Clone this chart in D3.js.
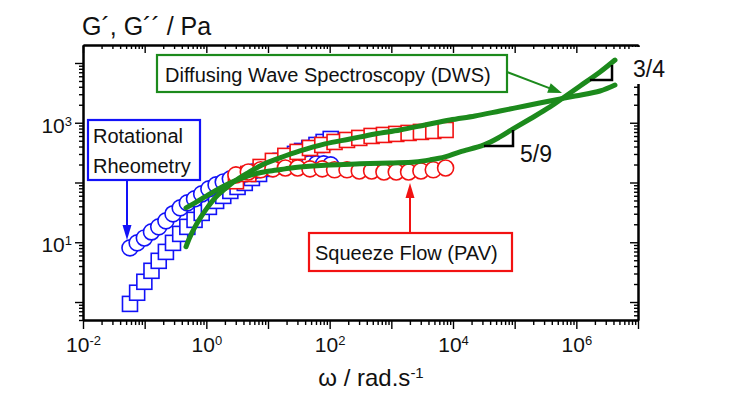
<!DOCTYPE html>
<html>
<head>
<meta charset="utf-8">
<script src="https://cdn.jsdelivr.net/npm/d3@7"></script>
<style>
  body { margin: 0; background: #fff; }
  svg { display: block; }
  text { font-family: "Liberation Sans", Arial, Helvetica, sans-serif; fill: #111; }
</style>
</head>
<body>
<svg id="chart" width="741" height="393"></svg>
<script>
// ---------------- data ----------------
// Rotational rheometry (blue): squares = G', circles = G''
const rotFreq = [0.0578,0.0755,0.0988,0.129,0.169,0.221,0.288,0.377,0.492,0.644,0.841,1.10,1.44,1.88,2.45,3.21,4.20,5.48,7.16,9.37,12.2,16.0,20.9,27.4,35.7,46.7,61.1,79.8,104];
const rotGp   = [0.93,1.43,2.18,3.33,4.89,6.90,9.77,13.8,18.1,23.7,31.0,39.1,49.2,59.7,72.3,84.3,98.4,119,139,169,197,230,268,301,337,378,425,477,535];
const rotGpp  = [8.05,9.77,11.8,14.9,18.1,22.8,29.9,37.6,45.6,53.2,64.4,78.2,91.2,102,115,129,139,150,163,175,182,189,197,205,205,205,205,205,197];

// Squeeze flow PAV (red): squares = G', circles = G''
const pavFreq = [3.02,4.79,7.59,12.0,19.1,30.2,47.9,75.9,120,191,302,479,759,1202,1905,3020,4786,7586];
const pavGp   = [105,139,182,230,279,325,378,425,477,515,557,601,625,650,675,702,729,757];
const pavGpp  = [134,150,163,169,175,175,169,169,163,163,156,156,150,150,150,156,163,175];

// DWS (green lines)
const dwsGpFreq  = [0.468,0.543,0.655,0.819,1.06,1.43,2.01,2.92,4.74,8.0,15.6,33.0,84,214,544,1380,3514,8937,22700,57800,147000,374000,951000,2.42e6,4.23e6];
const dwsGp      = [8.4,12.3,18.1,26.5,39.1,57.4,78.2,106,145,197,258,337,442,535,650,757,918,1113,1300,1575,1910,2313,2805,3400,4285];
const dwsGppFreq = [0.468,0.655,0.95,1.38,2.24,3.51,6.15,10.8,18.9,33.0,101,310,951,2420,4240,7420,13000,31800,57800,94000,177000,374000,607000,1.15e6,2.42e6,4.23e6];
const dwsGpp     = [37.6,45.6,57.4,72.3,94.6,115,139,156,169,182,197,205,213,221,239,268,325,425,579,787,1156,1837,2600,4120,7060,11200];

// slope triangles [x0, x1, yLow, yHigh]
const slope59 = [31800, 94000, 409, 757];
const slope34 = [1.66e6, 3.79e6, 5200, 9270];

// axis ticks
const xDecades = [-2,-1,0,1,2,3,4,5,6,7];
const xLabelExps = [-2,0,2,4,6];
const yDecades = [0,1,2,3,4];
const yLabelExps = [1,3];
const minorMult = [2,3,4,5,6,7,8,9];

// ---------------- chart ----------------
const svg = d3.select("#chart");
const x = d3.scaleLog().domain([1e-2, 1e7]).range([83, 638]);
const y = d3.scaleLog().domain([0.5, 2e4]).range([320, 45]);

const BLUE = "#1212f8", RED = "#f21212", GREEN = "#1c8a1c";

const xMajor = xDecades.map(e => Math.pow(10, e));
const xMinor = [];
xDecades.slice(0, -1).forEach(e => minorMult.forEach(m => xMinor.push(m * Math.pow(10, e))));
const yMajor = yDecades.map(e => Math.pow(10, e));
const yMinor = [];
[-1,0,1,2,3,4].forEach(e => minorMult.forEach(m => {
  const v = m * Math.pow(10, e);
  if (v >= 0.5 && v < 2e4) yMinor.push(v);
}));

function supLabel(sel, exps) {
  sel.selectAll(".tick text").each(function(d) {
    const e = Math.round(Math.log10(d));
    const t = d3.select(this);
    t.text(null);
    if (exps.indexOf(e) < 0) return;
    t.append("tspan").text("10");
    t.append("tspan").attr("dy", "-0.55em").attr("font-size", "13px").text(String(e));
  });
}
function styleAxis(g) {
  g.select(".domain").attr("stroke", "#000").attr("stroke-width", 2);
  g.selectAll(".tick line").attr("stroke", "#000").attr("stroke-width", 1.4);
}

// bottom axis (ticks outward)
const gbMin = svg.append("g").attr("transform", "translate(0,320)")
  .call(d3.axisBottom(x).tickValues(xMinor).tickSize(5).tickSizeOuter(0).tickFormat(""));
styleAxis(gbMin);
const gbMaj = svg.append("g").attr("transform", "translate(0,320)")
  .call(d3.axisBottom(x).tickValues(xMajor).tickSize(9).tickSizeOuter(0).tickFormat(d => "10"));
styleAxis(gbMaj);
gbMaj.selectAll(".tick text").attr("y", 32).attr("dy", 0).attr("font-size", "21px").attr("fill", "#111");
supLabel(gbMaj, xLabelExps);

// top axis (ticks inward)
const gtMin = svg.append("g").attr("transform", "translate(0,45)")
  .call(d3.axisBottom(x).tickValues(xMinor).tickSize(4).tickSizeOuter(0).tickFormat(""));
styleAxis(gtMin);
const gtMaj = svg.append("g").attr("transform", "translate(0,45)")
  .call(d3.axisBottom(x).tickValues(xMajor).tickSize(8).tickSizeOuter(0).tickFormat(""));
styleAxis(gtMaj);

// left axis (ticks outward)
const glMin = svg.append("g").attr("transform", "translate(83,0)")
  .call(d3.axisLeft(y).tickValues(yMinor).tickSize(4).tickSizeOuter(0).tickFormat(""));
styleAxis(glMin);
const glMaj = svg.append("g").attr("transform", "translate(83,0)")
  .call(d3.axisLeft(y).tickValues(yMajor).tickSize(8).tickSizeOuter(0).tickFormat(d => "10"));
styleAxis(glMaj);
glMaj.selectAll(".tick text").attr("x", -11).attr("dy", "0.45em").attr("font-size", "21px").attr("fill", "#111");
supLabel(glMaj, yLabelExps);

// right axis (ticks inward)
const grMin = svg.append("g").attr("transform", "translate(638,0)")
  .call(d3.axisLeft(y).tickValues(yMinor).tickSize(4).tickSizeOuter(0).tickFormat(""));
styleAxis(grMin);
const grMaj = svg.append("g").attr("transform", "translate(638,0)")
  .call(d3.axisLeft(y).tickValues(yMajor).tickSize(8).tickSizeOuter(0).tickFormat(""));
styleAxis(grMaj);

// ---------------- markers ----------------
const R = 8, S = 15;
function squares(freq, vals, color) {
  svg.append("g").selectAll("rect").data(freq.map((f, i) => [f, vals[i]])).join("rect")
    .attr("x", d => x(d[0]) - S / 2).attr("y", d => y(d[1]) - S / 2)
    .attr("width", S).attr("height", S)
    .attr("fill", "#fff").attr("stroke", color).attr("stroke-width", 1.6);
}
function circles(freq, vals, color) {
  svg.append("g").selectAll("circle").data(freq.map((f, i) => [f, vals[i]])).join("circle")
    .attr("cx", d => x(d[0])).attr("cy", d => y(d[1])).attr("r", R)
    .attr("fill", "#fff").attr("stroke", color).attr("stroke-width", 1.6);
}
squares(rotFreq, rotGp, BLUE);
circles(rotFreq, rotGpp, BLUE);
squares(pavFreq, pavGp, RED);
circles(pavFreq, pavGpp, RED);

// ---------------- DWS lines ----------------
const line = d3.line().x(d => x(d[0])).y(d => y(d[1])).curve(d3.curveCatmullRom.alpha(0.5));
svg.append("path").datum(dwsGpFreq.map((f, i) => [f, dwsGp[i]]))
  .attr("d", line).attr("fill", "none").attr("stroke", GREEN).attr("stroke-width", 5).attr("stroke-linecap", "round");
svg.append("path").datum(dwsGppFreq.map((f, i) => [f, dwsGpp[i]]))
  .attr("d", line).attr("fill", "none").attr("stroke", GREEN).attr("stroke-width", 5).attr("stroke-linecap", "round");

// ---------------- slope triangles ----------------
function tri(s) {
  const p = [[x(s[0]), y(s[2])], [x(s[1]), y(s[2])], [x(s[1]), y(s[3])]];
  svg.append("path").attr("d", d3.line()(p)).attr("fill", "none")
    .attr("stroke", "#000").attr("stroke-width", 2.5);
}
tri(slope59);
tri(slope34);
svg.append("text").attr("x", x(slope59[1]) + 7).attr("y", y(slope59[2]) + 16)
  .attr("font-size", "23px").text("5/9");
// white label box for 3/4 (hides part of the right axis as in the original)
svg.append("rect").attr("x", 630).attr("y", 47).attr("width", 60).attr("height", 37).attr("fill", "#fff");
svg.append("text").attr("x", 633).attr("y", 77).attr("font-size", "23px").text("3/4");

// ---------------- annotation boxes ----------------
function arrowHead(tipX, tipY, dirX, dirY, len, half, color) {
  const bx = tipX - dirX * len, by = tipY - dirY * len;
  const px = -dirY, py = dirX;
  svg.append("path")
    .attr("d", `M${tipX},${tipY}L${bx + px * half},${by + py * half}L${bx - px * half},${by - py * half}Z`)
    .attr("fill", color);
}
// DWS
svg.append("rect").attr("x", 157).attr("y", 55).attr("width", 350).attr("height", 37)
  .attr("fill", "#fff").attr("stroke", GREEN).attr("stroke-width", 2.2);
svg.append("text").attr("x", 165).attr("y", 82).attr("font-size", "20px").text("Diffusing Wave Spectroscopy (DWS)");
{
  const x0 = 507, y0 = 72, x1 = 562, y1 = 93;
  const len = Math.hypot(x1 - x0, y1 - y0), dx = (x1 - x0) / len, dy = (y1 - y0) / len;
  svg.append("line").attr("x1", x0).attr("y1", y0).attr("x2", x1 - dx * 10).attr("y2", y1 - dy * 10)
    .attr("stroke", GREEN).attr("stroke-width", 2);
  arrowHead(x1, y1, dx, dy, 14, 5, GREEN);
}
// Rotational Rheometry
svg.append("rect").attr("x", 88).attr("y", 120).attr("width", 112).attr("height", 60)
  .attr("fill", "#fff").attr("stroke", BLUE).attr("stroke-width", 2.2);
svg.append("text").attr("x", 93).attr("y", 143).attr("font-size", "20px").text("Rotational");
svg.append("text").attr("x", 93).attr("y", 173).attr("font-size", "20px").text("Rheometry");
svg.append("line").attr("x1", 127).attr("y1", 181).attr("x2", 127).attr("y2", 230)
  .attr("stroke", BLUE).attr("stroke-width", 2);
arrowHead(127, 240, 0, 1, 15, 4.5, BLUE);
// Squeeze flow
svg.append("rect").attr("x", 309).attr("y", 233).attr("width", 203).attr("height", 38)
  .attr("fill", "#fff").attr("stroke", RED).attr("stroke-width", 2.2);
svg.append("text").attr("x", 315).attr("y", 260).attr("font-size", "20px").text("Squeeze Flow (PAV)");
svg.append("line").attr("x1", 410).attr("y1", 232).attr("x2", 410).attr("y2", 195)
  .attr("stroke", RED).attr("stroke-width", 2);
arrowHead(410, 183, 0, -1, 15, 4.5, RED);

// ---------------- axis titles ----------------
svg.append("text").attr("x", 82).attr("y", 35).attr("font-size", "25px").text("G\u00B4, G\u00B4\u00B4 / Pa");
const xt = svg.append("text").attr("x", 371).attr("y", 386).attr("text-anchor", "middle").attr("font-size", "24px");
xt.append("tspan").text("\u03C9 / rad.s");
xt.append("tspan").attr("dy", "-0.55em").attr("font-size", "15px").text("-1");
</script>
</body>
</html>
